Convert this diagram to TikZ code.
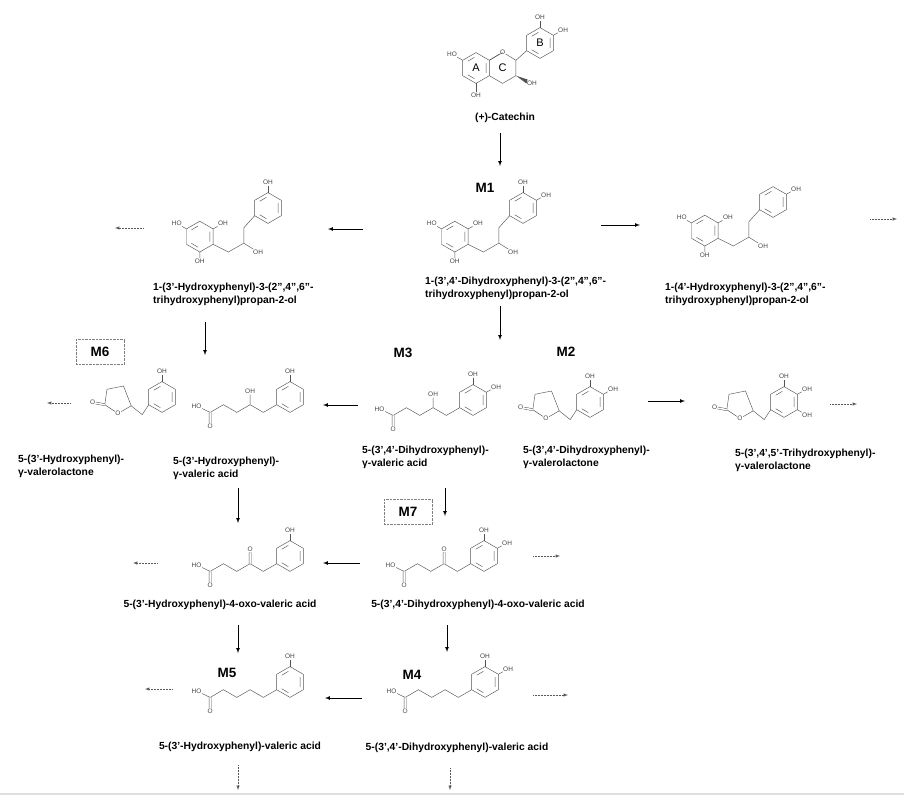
\documentclass[tikz,border=0pt]{standalone}
\usepackage{fontspec}
\setmainfont{Liberation Sans}
\usepackage{tikz}

\tikzset{
  bond/.style={draw=gray!65!black, line width=0.45pt},
  dbond/.style={bond, double, double distance=1.5pt},
  atom/.style={font=\fontsize{6.5}{6.5}\selectfont, text=gray!55!black, inner sep=0.5pt},
  cname/.style={font=\fontsize{10.3}{13}\selectfont\bfseries, align=left, inner sep=0pt},
  mlab/.style={font=\fontsize{13.5}{13.5}\selectfont\bfseries, inner sep=1pt},
  mbox/.style={mlab, draw=gray, densely dotted, minimum width=48pt, minimum height=25pt},
  arr/.style={-latex, line width=0.7pt},
  darr/.style={-latex, densely dotted, line width=0.5pt, gray!70!black},
  every pic/.style={scale=1.1},
  benz/.pic={
    \draw[bond] (0,-14) coordinate (-t) -- (12.1,-7) coordinate (-ur) -- (12.1,7) coordinate (-lr)
      -- (0,14) coordinate (-b) -- (-12.1,7) coordinate (-ll) -- (-12.1,-7) coordinate (-ul) -- cycle;
    \draw[bond] (9.2,-4.5)--(9.2,4.5) (-1.5,9.7)--(-7.6,6.1) (-7.6,-6.1)--(-1.5,-9.7);
  },
  ohtop/.pic={\node[atom] (-oh3) at (0,-23) {OH}; \draw[bond] (0,-14) -- (-oh3);},
  ohpara/.pic={\node[atom] (-oh4) at (21,-12) {OH}; \draw[bond] (12.1,-7) -- (-oh4);},
  ohfive/.pic={\node[atom] (-oh5) at (21,12) {OH}; \draw[bond] (12.1,7) -- (-oh5);},
  acid/.pic={
    \draw[bond] (-12.1,7) -- (-24.2,14) -- (-36.3,7) coordinate (-c2) -- (-48.4,14)
      -- (-60.5,7) -- (-72.6,14) coordinate (-c5);
    \node[atom] (-ho) at (-85,8) {HO}; \draw[bond] (-c5) -- (-ho);
    \node[atom] (-o) at (-72.6,27) {O}; \draw[dbond] (-c5) -- (-o);
  },
  hydroxy/.pic={\node[atom] (-oh) at (-36.3,-5) {OH}; \draw[bond] (-36.3,7) -- (-oh);},
  oxo/.pic={\node[atom] (-ox) at (-36.3,-6) {O}; \draw[dbond] (-36.3,7) -- (-ox);},
  lactone/.pic={
    \draw[bond] (-12.1,7) -- (-18,16) -- (-28,8) coordinate (-c5);
    \node[atom] (-o1) at (-40,15) {O};
    \draw[bond] (-c5) -- (-o1) -- (-52,7) coordinate (-c2) -- (-50,-7) -- (-35,-10) -- (-c5);
    \node[atom] (-o2) at (-63,5) {O}; \draw[dbond] (-c2) -- (-o2);
  },
  propanol/.pic={
    \draw[bond] (-12.1,7) -- (-22,18) -- (-22,32) coordinate (-cb) -- (-36,40) -- (-50,33);
    \node[atom] (-oh2) at (-9,40) {OH}; \draw[bond] (-cb) -- (-oh2);
    \draw[bond] (-62,12) -- (-49.9,19) -- (-49.9,33) -- (-62,40) -- (-74.1,33) -- (-74.1,19) -- cycle;
    \draw[bond] (-52.8,21.5)--(-52.8,30.5) (-63.5,35.7)--(-69.6,32.1) (-69.6,19.9)--(-63.5,16.3);
    \node[atom] (-pho) at (-83,14) {HO}; \draw[bond] (-74.1,19) -- (-pho);
    \node[atom] (-poh) at (-41,14) {OH}; \draw[bond] (-49.9,19) -- (-poh);
    \node[atom] (-pob) at (-62,48) {OH}; \draw[bond] (-62,40) -- (-pob);
  }
}

\begin{document}
\begin{tikzpicture}[x=1pt, y=-1pt]
\useasboundingbox (0,0) rectangle (904,802);
\draw[gray!25, line width=1.5pt] (0,794) -- (904,794);

% catechin
\pic (cA) at (476,68) {benz};
\draw[bond] (489.3,60.3) coordinate (cj1) -- (502.6,52.6) (515.9,60.3) coordinate (c2)
  -- (515.9,75.7) coordinate (c3) -- (502.6,83.4) -- (489.3,75.7);
\node[atom] (cO) at (502.6,52) {O};
\draw[bond] (cj1) -- (cO) -- (c2);
\pic (cB) at (540,43) {benz};
\pic (cB) at (540,43) {ohtop};
\pic (cB) at (540,43) {ohpara};
\draw[bond] (c2) -- (cB-ll);
\node[atom] (cOH3) at (532,83) {OH};
\fill[gray!65!black] (c3) -- (527.5,79.5) -- (526.5,83.5) -- cycle;
\node[atom] (cHO7) at (452,54) {HO}; \draw[bond] (cA-ul) -- (cHO7);
\node[atom] (cOH5) at (476,95) {OH}; \draw[bond] (cA-b) -- (cOH5);
\node[font=\fontsize{11}{11}\selectfont] (lA) at (476,68) {A};
\node[font=\fontsize{11}{11}\selectfont] (lC) at (502.6,68) {C};
\node[font=\fontsize{11}{11}\selectfont] (lB) at (540,43) {B};
\node[cname] (ncat) at (505,118) {(+)-Catechin};

% row 1
\node[mlab] (M1) at (485,188) {M1};
\pic (r1a) at (268,208) {benz}; \pic (r1a) at (268,208) {ohtop}; \pic (r1a) at (268,208) {propanol};
\pic (r1b) at (523,208) {benz}; \pic (r1b) at (523,208) {ohtop}; \pic (r1b) at (523,208) {ohpara};
\pic (r1b) at (523,208) {propanol};
\pic (r1c) at (773,202) {benz}; \pic (r1c) at (773,202) {ohpara}; \pic (r1c) at (773,202) {propanol};
\node[cname, anchor=north west] (n1a) at (153,283) {1-(3'-Hydroxyphenyl)-3-(2'',4'',6''-\\trihydroxyphenyl)propan-2-ol};
\node[cname, anchor=north west] (n1b) at (425,277) {1-(3',4'-Dihydroxyphenyl)-3-(2'',4'',6''-\\trihydroxyphenyl)propan-2-ol};
\node[cname, anchor=north west] (n1c) at (665,283) {1-(4'-Hydroxyphenyl)-3-(2'',4'',6''-\\trihydroxyphenyl)propan-2-ol};

% row 2
\node[mbox] (M6) at (100,352) {M6};
\node[mlab] (M3) at (403,353) {M3};
\node[mlab] (M2) at (566,352) {M2};
\pic (r2a) at (162,397) {benz}; \pic (r2a) at (162,397) {ohtop}; \pic (r2a) at (162,397) {lactone};
\pic (r2b) at (290,397) {benz}; \pic (r2b) at (290,397) {ohtop}; \pic (r2b) at (290,397) {acid};
\pic (r2b) at (290,397) {hydroxy};
\pic (r2c) at (473,400) {benz}; \pic (r2c) at (473,400) {ohtop}; \pic (r2c) at (473,400) {ohpara};
\pic (r2c) at (473,400) {acid}; \pic (r2c) at (473,400) {hydroxy};
\pic (r2d) at (590,402) {benz}; \pic (r2d) at (590,402) {ohtop}; \pic (r2d) at (590,402) {ohpara};
\pic (r2d) at (590,402) {lactone};
\pic (r2e) at (784,402) {benz}; \pic (r2e) at (784,402) {ohtop}; \pic (r2e) at (784,402) {ohpara};
\pic (r2e) at (784,402) {ohfive}; \pic (r2e) at (784,402) {lactone};
\node[cname, anchor=north west] (n2a) at (18,455) {5-(3'-Hydroxyphenyl)-\\γ-valerolactone};
\node[cname, anchor=north west] (n2b) at (173,457) {5-(3'-Hydroxyphenyl)-\\γ-valeric acid};
\node[cname, anchor=north west] (n2c) at (362,446) {5-(3',4'-Dihydroxyphenyl)-\\γ-valeric acid};
\node[cname, anchor=north west] (n2d) at (523,446) {5-(3',4'-Dihydroxyphenyl)-\\γ-valerolactone};
\node[cname, anchor=north west] (n2e) at (735,449) {5-(3',4',5'-Trihydroxyphenyl)-\\γ-valerolactone};

% row 3
\node[mbox] (M7) at (408,512) {M7};
\pic (r3a) at (290,556) {benz}; \pic (r3a) at (290,556) {ohtop}; \pic (r3a) at (290,556) {acid};
\pic (r3a) at (290,556) {oxo};
\pic (r3b) at (484,556) {benz}; \pic (r3b) at (484,556) {ohtop}; \pic (r3b) at (484,556) {ohpara};
\pic (r3b) at (484,556) {acid}; \pic (r3b) at (484,556) {oxo};
\node[cname] (n3a) at (220,605) {5-(3'-Hydroxyphenyl)-4-oxo-valeric acid};
\node[cname] (n3b) at (478,605) {5-(3',4'-Dihydroxyphenyl)-4-oxo-valeric acid};

% row 4
\node[mlab] (M5) at (227,673) {M5};
\node[mlab] (M4) at (412,675) {M4};
\pic (r4a) at (290,682) {benz}; \pic (r4a) at (290,682) {ohtop}; \pic (r4a) at (290,682) {acid};
\pic (r4b) at (485,682) {benz}; \pic (r4b) at (485,682) {ohtop}; \pic (r4b) at (485,682) {ohpara};
\pic (r4b) at (485,682) {acid};
\node[cname] (n4a) at (240,747) {5-(3'-Hydroxyphenyl)-valeric acid};
\node[cname] (n4b) at (457,748) {5-(3',4'-Dihydroxyphenyl)-valeric acid};

% arrows
\foreach \n/\p/\q in {a0/{500,133}/{500,166}, a1/{363,229}/{328,229}, a2/{601,225}/{640,225},
  a3/{205,322}/{205,355}, a4/{500,306}/{500,340}, a5/{358,405}/{323,405}, a6/{648,401}/{685,401},
  a7/{238,488}/{238,523}, a8/{445,488}/{445,516}, a9/{360,563}/{323,563},
  a10/{238,625}/{238,653}, a11/{447,625}/{447,652}, a12/{362,698}/{325,698}}
  {\coordinate (\n s) at (\p); \coordinate (\n e) at (\q); \draw[arr] (\n s) -- (\n e);}
\foreach \n/\p/\q in {d1/{143,228}/{115,228}, d2/{870,219}/{897,219}, d3/{70,403}/{47,403},
  d4/{830,404}/{857,404}, d5/{157,563}/{133,563}, d6/{533,556}/{560,556},
  d7/{172,689}/{145,689}, d8/{533,695}/{568,695}, d9/{238,765}/{238,790}, d10/{450,768}/{450,790}}
  {\coordinate (\n s) at (\p); \coordinate (\n e) at (\q); \draw[darr] (\n s) -- (\n e);}
\end{tikzpicture}
\end{document}
